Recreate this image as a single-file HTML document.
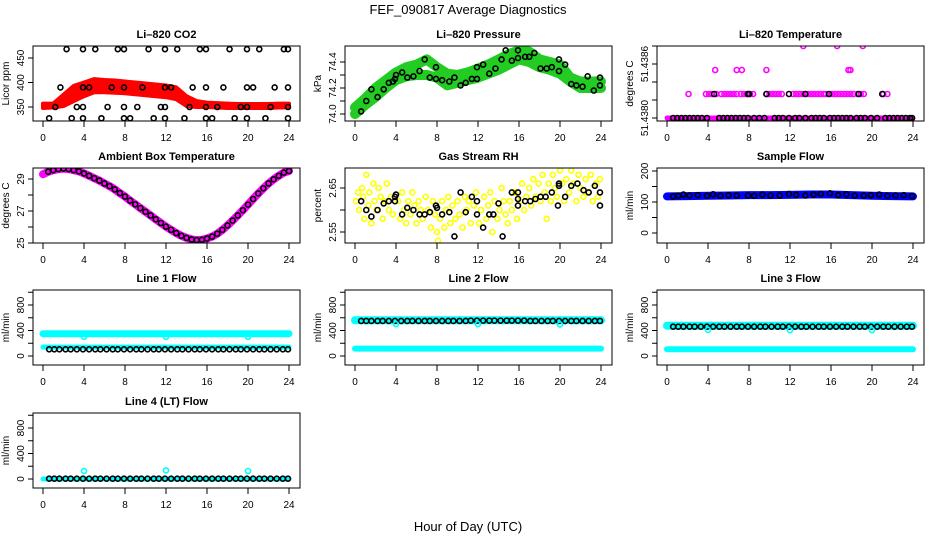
<!DOCTYPE html>
<html><head><meta charset="utf-8"><style>
html,body{margin:0;padding:0;background:#fff;}
svg{display:block;font-family:"Liberation Sans",sans-serif;}
</style></head><body>
<svg id="fig" width="936" height="540" viewBox="0 0 936 540">
<text x="468" y="14" text-anchor="middle" font-size="13">FEF_090817  Average Diagnostics</text>
<text x="468" y="531" text-anchor="middle" font-size="13">Hour of Day (UTC)</text>
</svg>
<script>
// ---------- data ----------
const xTicks = [0,4,8,12,16,20,24];
// CO2
const co2BandHours = [0,1,2,3,4,5,6,7,8,9,10,11,12,13,14,15,16,17,18,19,20,21,22,23,24];
const co2Upper = [357,357,375,393,400,407,405,404,402,400,398,396,394,390,372,362,359,358,357,356,356,356,356,357,357];
const co2Lower = [348,349,352,362,372,380,380,379,378,376,374,372,370,366,352,350,350,349,348,348,348,348,348,349,349];
const co2BlackHours = [2.3,3.9,5.1,7.3,7.9,10.3,11.9,13.1,15.3,15.9,18.2,19.9,21.1,23.5,23.9,
 1.7,3.9,4.5,6.7,7.9,9.7,11.9,12.5,14.6,15.9,17.6,19.9,20.5,22.6,23.9,
 1.2,3.3,3.9,6.3,7.9,9.2,11.5,11.9,14.3,15.9,17.0,19.3,19.9,22.2,23.9,
 0.6,2.8,3.9,5.7,7.9,8.5,10.8,11.9,13.8,15.9,16.5,18.7,19.9,21.7,23.9];
const co2BlackVals = [468,468,468,468,468,468,468,468,468,468,468,468,468,468,468,
 390,390,390,390,390,390,390,390,390,390,390,390,390,390,390,
 350,350,350,350,350,350,350,350,350,350,350,350,350,350,350,
 327,327,327,327,327,327,327,327,327,327,327,327,327,327,327];
// Pressure
const presHours = [0,1,2,3,4,5,6,7,8,9,10,11,12,13,14,15,16,17,18,19,20,21,22,23,24];
const presUpper = [74.05,74.12,74.20,74.26,74.32,74.36,74.38,74.42,74.36,74.31,74.30,74.32,74.35,74.38,74.42,74.46,74.49,74.48,74.42,74.40,74.38,74.28,74.25,74.25,74.25];
const presLower = [74.00,74.07,74.13,74.20,74.26,74.29,74.30,74.30,74.28,74.22,74.24,74.26,74.28,74.31,74.34,74.38,74.42,74.40,74.36,74.34,74.31,74.25,74.20,74.20,74.20];
const presBlack = [[0.6,74.02],[1.1,74.10],[1.6,74.19],[2.2,74.13],[2.8,74.19],[3.3,74.24],[3.7,74.25],[3.9,74.27],[4.0,74.30],[4.6,74.32],[5.1,74.28],[5.7,74.29],[6.3,74.33],[6.8,74.42],[7.3,74.28],[7.9,74.27],[7.9,74.36],[8.5,74.26],[9.2,74.25],[9.7,74.28],[10.3,74.22],[10.8,74.24],[11.4,74.27],[11.9,74.27],[11.9,74.36],[12.5,74.38],[13.1,74.31],[13.7,74.35],[14.3,74.42],[14.7,74.49],[15.3,74.41],[15.9,74.43],[15.9,74.49],[16.6,74.44],[17.0,74.44],[17.5,74.47],[18.1,74.35],[18.7,74.35],[19.2,74.36],[19.9,74.33],[19.9,74.42],[20.5,74.38],[21.1,74.23],[21.6,74.22],[22.2,74.21],[22.7,74.29],[23.3,74.18],[23.9,74.28],[23.9,74.22]];
// Li-820 temperature
const ltPinkMid = [2.1,3.8,4.1,4.4,4.8,5.3,5.6,5.9,6.2,6.5,6.8,7.2,7.5,7.8,8.1,8.4,9.7,10.0,10.3,10.6,10.9,11.2,12.3,12.6,12.9,13.2,13.5,13.8,14.1,14.4,14.7,15.0,15.3,15.5,15.8,16.1,16.4,16.7,17.0,17.3,17.6,17.9,18.2,18.6,18.9,19.2,21.1,21.5];
const ltPinkHigh = [4.7,6.8,7.3,9.7,17.7,17.9];
const ltPinkTop = [13.3,16.6,19.1];
const ltBlackMid = [4.6,7.9,8.0,9.7,11.9,13.5,15.8,18.7,21.0];
const ltBlackLow = [0.6,1.0,1.4,1.8,2.2,2.6,3.0,3.4,3.9,5.1,5.5,5.9,6.3,6.7,7.1,7.5,7.9,8.5,9.0,9.5,10.5,10.9,11.3,11.9,12.5,12.9,13.5,14.1,14.5,14.9,15.3,15.9,16.3,16.7,17.1,17.5,17.9,18.5,18.9,19.3,19.9,20.5,21.3,21.7,22.1,22.5,22.9,23.3,23.7,23.9];
const ltLevels = [51.4380,51.4382,51.4384,51.4386];
// Ambient box temperature (half-hourly)
const ambHours = [0,0.5,1,1.5,2,2.5,3,3.5,4,4.5,5,5.5,6,6.5,7,7.5,8,8.5,9,9.5,10,10.5,11,11.5,12,12.5,13,13.5,14,14.5,15,15.5,16,16.5,17,17.5,18,18.5,19,19.5,20,20.5,21,21.5,22,22.5,23,23.5,24];
const ambVals = [29.3,29.45,29.55,29.62,29.65,29.62,29.55,29.48,29.35,29.2,29.05,28.9,28.72,28.55,28.35,28.12,27.9,27.65,27.42,27.18,26.95,26.72,26.48,26.25,26.02,25.82,25.62,25.45,25.32,25.22,25.18,25.2,25.28,25.4,25.58,25.82,26.1,26.4,26.72,27.05,27.4,27.75,28.1,28.42,28.72,28.98,29.2,29.4,29.5];
// Gas stream RH
const rhYellow = [[0.1,2.62],[0.3,2.64],[0.4,2.60],[0.7,2.65],[0.8,2.63],[0.9,2.58],[1.1,2.68],[1.3,2.61],[1.4,2.64],[1.6,2.57],[1.8,2.66],[1.9,2.62],[2.1,2.60],[2.3,2.65],[2.5,2.63],[2.7,2.58],[2.9,2.62],[3.1,2.66],[3.3,2.60],[3.5,2.63],[3.7,2.59],[4.2,2.62],[4.4,2.58],[4.6,2.64],[4.8,2.60],[5.0,2.57],[5.2,2.62],[5.4,2.59],[5.6,2.64],[5.8,2.61],[6.0,2.57],[6.2,2.62],[6.4,2.60],[6.6,2.58],[6.9,2.63],[7.1,2.60],[7.4,2.56],[7.6,2.62],[7.8,2.59],[8.0,2.55],[8.1,2.53],[8.3,2.58],[8.5,2.62],[8.7,2.56],[8.9,2.60],[9.1,2.63],[9.3,2.57],[9.5,2.61],[9.8,2.58],[10.0,2.62],[10.2,2.59],[10.5,2.56],[10.7,2.63],[10.9,2.60],[11.1,2.62],[11.3,2.57],[11.6,2.61],[11.8,2.64],[12.1,2.57],[12.3,2.60],[12.6,2.63],[12.8,2.58],[13.0,2.61],[13.2,2.64],[13.4,2.55],[13.6,2.62],[13.9,2.58],[14.1,2.60],[14.3,2.65],[14.5,2.62],[14.7,2.59],[14.9,2.57],[15.1,2.62],[15.3,2.60],[15.6,2.64],[15.8,2.58],[16.1,2.62],[16.3,2.66],[16.5,2.60],[16.7,2.63],[17.0,2.65],[17.2,2.61],[17.4,2.67],[17.6,2.63],[17.9,2.66],[18.1,2.62],[18.3,2.68],[18.5,2.64],[18.7,2.58],[18.9,2.66],[19.1,2.62],[19.3,2.68],[19.5,2.65],[19.7,2.63],[20.0,2.69],[20.2,2.66],[20.4,2.62],[20.6,2.67],[20.9,2.64],[21.1,2.69],[21.3,2.66],[21.6,2.62],[21.8,2.68],[22.0,2.65],[22.3,2.63],[22.5,2.67],[22.7,2.64],[23.0,2.68],[23.2,2.62],[23.5,2.66],[23.7,2.63],[23.9,2.67]];
const rhBlack = [[0.6,2.62],[1.1,2.60],[1.6,2.585],[2.2,2.60],[2.8,2.615],[3.3,2.62],[3.9,2.62],[3.9,2.63],[4.0,2.635],[4.6,2.59],[5.1,2.605],[5.7,2.60],[6.3,2.59],[6.8,2.59],[7.3,2.595],[7.9,2.61],[8.0,2.605],[8.5,2.59],[9.2,2.595],[9.7,2.54],[10.3,2.64],[10.8,2.595],[11.4,2.63],[11.9,2.59],[11.9,2.62],[12.5,2.56],[13.1,2.59],[13.5,2.59],[14.0,2.615],[14.4,2.54],[15.3,2.64],[15.9,2.625],[15.9,2.64],[15.9,2.61],[16.6,2.62],[17.1,2.62],[17.6,2.625],[18.1,2.63],[18.6,2.63],[19.2,2.64],[19.8,2.61],[19.9,2.655],[19.9,2.66],[20.5,2.63],[21.1,2.655],[21.7,2.66],[22.3,2.645],[22.8,2.64],[23.4,2.655],[23.9,2.64],[23.9,2.61]];
// Sample flow
const flowHours = [0,2,4,6,8,10,12,14,16,18,20,22,24];
const sampleBlue = [118,119,120,121,122,122,123,124,124,122,120,119,118];
const sampleBlack = [[0.6,118],[1.1,120],[1.6,124],[2.2,121],[3.0,122],[3.9,120],[4.5,125],[5.2,120],[6.0,122],[6.8,121],[7.9,121],[8.5,120],[9.3,124],[10.1,121],[11.0,121],[11.9,126],[12.6,123],[13.5,121],[14.3,124],[15.0,126],[15.9,128],[16.7,122],[17.5,125],[18.3,121],[19.2,121],[19.9,122],[20.7,124],[21.5,120],[22.3,121],[23.1,122],[23.9,119]];
// Line flows
const l1Upper = [350,350,350,350,350,350,350,350,350,350,350,350,350];
const l1Lower = [140,140,140,140,140,140,140,140,140,140,140,140,140];
const l1Black = [105,105,105,105,105,105,105,105,105,105,105,105,105];
const l1Out = [[4,300],[12,300],[20,300]];
const l2Upper = [560,560,560,560,560,560,560,560,560,560,560,560,560];
const l2Lower = [115,115,115,115,115,115,115,115,115,115,115,115,115];
const l2Black = [550,550,550,550,550,550,555,555,555,550,550,550,550];
const l2Out = [[4,500],[12,500],[20,495]];
const l3Upper = [475,475,475,475,475,475,475,475,475,475,475,475,475];
const l3Lower = [105,105,105,105,105,105,105,105,105,105,105,105,105];
const l3Black = [460,460,460,460,460,460,460,460,460,460,460,460,460];
const l3Out = [[4,410],[12,405],[20,405]];
const l4Cyan = [0,0,0,0,0,0,0,0,0,0,0,0,0];
const l4Black = [5,5,5,5,5,5,5,5,5,5,5,5,5];
const l4Out = [[4,125],[12,135],[20,125]];
const blackFlowHours = [0.6,1.1,1.6,2.2,2.7,3.3,3.9,4.5,5.1,5.6,6.2,6.8,7.3,7.9,8.5,9.1,9.6,10.2,10.8,11.3,11.9,12.5,13.1,13.6,14.2,14.8,15.3,15.9,16.5,17.1,17.6,18.2,18.8,19.3,19.9,20.5,21.1,21.6,22.2,22.8,23.4,23.9];

// ---------- drawing ----------
const svg = document.getElementById('fig');
const NS = 'http://www.w3.org/2000/svg';
function mk(tag, attrs, parent){const e=document.createElementNS(NS,tag);for(const k in attrs)e.setAttribute(k,attrs[k]);(parent||svg).appendChild(e);return e;}

const colLeft=[33,345,657], colX0=[43,355,667], PW=267, PH=75;
const rowTop=[46,168,290,413];

function panel(o){
  const bx=colLeft[o.col], by=rowTop[o.row], x0=colX0[o.col];
  const g=mk('g',{});
  
  
  const x=h=>x0+h*(246/24);
  const y=v=>by+o.p0+(v-o.v0)*(o.p1-o.p0)/(o.v1-o.v0);
  const t=mk('text',{x:bx+PW/2,y:by-8,'text-anchor':'middle','font-size':11,'font-weight':'bold'},g);
  t.textContent=o.title;
  
  
  const yl=mk('text',{x:bx-24,y:by+PH/2,'text-anchor':'middle','font-size':10,transform:`rotate(-90 ${bx-24} ${by+PH/2})`},g);
  yl.textContent=o.ylab;
  
  
  xTicks.forEach(h=>{
    mk('line',{x1:x(h),x2:x(h),y1:by+PH,y2:by+PH+6,stroke:'#000'},g);
    const tl=mk('text',{x:x(h),y:by+PH+20,'text-anchor':'middle','font-size':10},g);
    tl.textContent=h;
    
    
  });
  o.yt.forEach((v,i)=>{
    mk('line',{x1:bx,x2:bx-5,y1:y(v),y2:y(v),stroke:'#000'},g);
    const lab=o.ytl[i]; if(lab==='')return;
    const yy=y(v);
    const tl=mk('text',{x:bx-9,y:yy,'text-anchor':'middle','font-size':10,transform:`rotate(-90 ${bx-9} ${yy})`},g);
    tl.textContent=lab;
    
    
  });
  const cp='cp'+o.name;
  const cl=mk('clipPath',{id:cp},g); mk('rect',{x:bx,y:by,width:PW,height:PH},cl);
  const plot=mk('g',{'clip-path':`url(#${cp})`},g);
  const box=mk('rect',{x:bx,y:by,width:PW,height:PH,fill:'none',stroke:'#000','stroke-width':1},g);
  
  
  return {x,y,plot,g,box};
}
function band(p,hs,vs,color,w,name){
  const pts=hs.map((h,i)=>p.x(h)+','+p.y(vs[i])).join(' ');
  const e=mk('polyline',{points:pts,fill:'none',stroke:color,'stroke-width':w,'stroke-linecap':'round','stroke-linejoin':'round'},p.plot);
  
  
}
function area(p,hs,up,lo,color,name){
  const a=hs.map((h,i)=>p.x(h)+','+p.y(up[i]));
  const b=hs.map((h,i)=>p.x(h)+','+p.y(lo[i])).reverse();
  const e=mk('polygon',{points:a.concat(b).join(' '),fill:color,stroke:color,'stroke-width':4,'stroke-linejoin':'round'},p.plot);
  
  
}
function pt(p,h,v,color,name){
  const e=mk('circle',{cx:p.x(h),cy:p.y(v),r:2.5,fill:'none',stroke:color,'stroke-width':1.6},p.plot);
  
  
}

// CO2
let p=panel({col:0,row:0,name:'co2',title:'Li\u2013820 CO2',ylab:'Licor ppm',v0:350,p0:61,v1:450,p1:12,yt:[350,400,450],ytl:['350','400','450']});
area(p,co2BandHours,co2Upper,co2Lower,'#ff0000','co2-band');
co2BlackHours.forEach((h,i)=>pt(p,h,co2BlackVals[i],'#000','co2-point'));
// Pressure
p=panel({col:1,row:0,name:'pressure',title:'Li\u2013820 Pressure',ylab:'kPa',v0:74.0,p0:68,v1:74.4,p1:16,yt:[74.0,74.1,74.2,74.3,74.4],ytl:['74.0','','74.2','','74.4']});
band(p,presHours,presUpper,'#22cc22',10,'pressure-band-upper');
band(p,presHours,presLower,'#22cc22',10,'pressure-band-lower');
presBlack.forEach(d=>pt(p,d[0],d[1],'#000','pressure-point'));
// Li-820 temperature
p=panel({col:2,row:0,name:'licor-temp',title:'Li\u2013820 Temperature',ylab:'degrees C',v0:51.4380,p0:72,v1:51.4386,p1:0,yt:[51.4380,51.43815,51.4383,51.43845,51.4386],ytl:['51.4380','','','51.4386','']});
band(p,[0,24],[ltLevels[0],ltLevels[0]],'#ff00ff',5,'licor-temp-band');
ltPinkMid.forEach(h=>pt(p,h,ltLevels[1],'#ff00ff','licor-temp-point'));
ltPinkHigh.forEach(h=>pt(p,h,ltLevels[2],'#ff00ff','licor-temp-point'));
ltPinkTop.forEach(h=>pt(p,h,ltLevels[3],'#ff00ff','licor-temp-point'));
ltBlackMid.forEach(h=>pt(p,h,ltLevels[1],'#000','licor-temp-avg-point'));
ltBlackLow.forEach(h=>pt(p,h,ltLevels[0],'#000','licor-temp-avg-point'));
// Ambient
p=panel({col:0,row:1,name:'ambient-temp',title:'Ambient Box Temperature',ylab:'degrees C',v0:25,p0:75,v1:29,p1:11,yt:[25,26,27,28,29],ytl:['25','','27','','29']});
band(p,ambHours,ambVals,'#ff00ff',8,'ambient-temp-band');
ambHours.forEach((h,i)=>{if(i>0)pt(p,h,ambVals[i],'#000','ambient-temp-point');});
// RH
p=panel({col:1,row:1,name:'rh',title:'Gas Stream RH',ylab:'percent',v0:2.55,p0:64,v1:2.65,p1:20,yt:[2.55,2.60,2.65],ytl:['2.55','','2.65']});
rhYellow.forEach(d=>pt(p,d[0],d[1],'#ffff00','rh-point'));
rhBlack.forEach(d=>pt(p,d[0],d[1],'#000','rh-avg-point'));
// Sample flow
p=panel({col:2,row:1,name:'sample-flow',title:'Sample Flow',ylab:'ml/min',v0:0,p0:65,v1:200,p1:3,yt:[0,50,100,150,200],ytl:['0','','100','','200']});
band(p,flowHours,sampleBlue,'#0000ff',8,'sample-flow-band');
sampleBlack.forEach(d=>pt(p,d[0],d[1],'#000','sample-flow-point'));
// Line flows
function flowPanel(col,row,name,title,series,blacks,outs){
  const q=panel({col,row,name,title,ylab:'ml/min',v0:0,p0:66,v1:800,p1:15,yt:[0,200,400,600,800,1000],ytl:['0','','400','','800','']});
  series.forEach(s=>band(q,flowHours,s[0],'#00ffff',s[1],name+'-band'));
  blackFlowHours.forEach((h,i)=>pt(q,h,blacks[Math.round(h/2)],'#000',name+'-point'));
  outs.forEach(d=>pt(q,d[0],d[1],'#00ffff',name+'-outlier'));
}
flowPanel(0,2,'line1-flow','Line 1 Flow',[[l1Upper,7],[l1Lower,5]],l1Black,l1Out);
flowPanel(1,2,'line2-flow','Line 2 Flow',[[l2Upper,8],[l2Lower,6]],l2Black,l2Out);
flowPanel(2,2,'line3-flow','Line 3 Flow',[[l3Upper,8],[l3Lower,6]],l3Black,l3Out);
flowPanel(0,3,'line4-flow','Line 4 (LT) Flow',[[l4Cyan,5]],l4Black,l4Out);
</script>
</body></html>
